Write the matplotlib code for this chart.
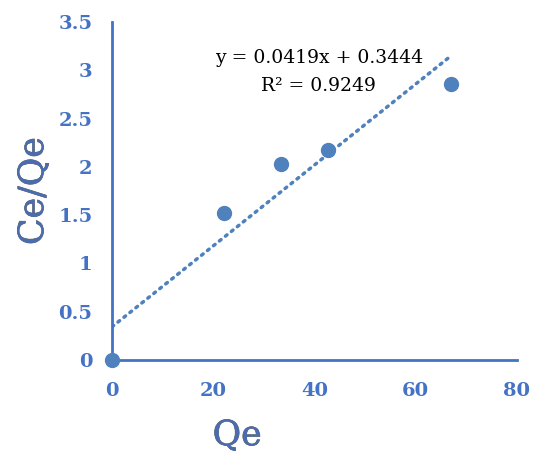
import numpy as np
import matplotlib.pyplot as plt
import matplotlib.patheffects as pe

# data
qe = [0, 22.1, 33.4, 42.7, 67.0]
ce_qe = [0, 1.52, 2.03, 2.18, 2.86]
slope = 0.0419
intercept = 0.3444
r2 = 0.9249

x_ticks = [0, 20, 40, 60, 80]
y_ticks = [0, 0.5, 1, 1.5, 2, 2.5, 3, 3.5]

blue = "#4472C4"
marker_blue = "#4F81BD"
serif = "DejaVu Serif"

fig = plt.figure(figsize=(5.37, 4.61), dpi=100)
ax = fig.add_axes([0.2086, 0.219, 0.754, 0.733])

# trendline
xt = np.array([0, max(qe)])
ax.plot(xt, slope * xt + intercept, linestyle=(0, (0.6, 1.6)), color=marker_blue,
        linewidth=2.5, dash_capstyle="round", zorder=2)
ax.plot(qe, ce_qe, "o", color=marker_blue, markersize=10, zorder=3, clip_on=False)

ax.set_xlim(0, 80)
ax.set_ylim(0, 3.5)
ax.set_xticks(x_ticks)
ax.set_yticks(y_ticks)
ax.set_xticklabels([str(t) for t in x_ticks])
ax.set_yticklabels([f"{t:g}" for t in y_ticks])

for s in ["top", "right"]:
    ax.spines[s].set_visible(False)
for s in ["left", "bottom"]:
    ax.spines[s].set_color(blue)
    ax.spines[s].set_linewidth(2)

ax.tick_params(length=0, colors=blue)
ax.tick_params(axis="x", pad=16)
ax.tick_params(axis="y", pad=14)
for lab in ax.get_xticklabels() + ax.get_yticklabels():
    lab.set_fontfamily(serif)
    lab.set_fontweight("bold")
    lab.set_fontsize(14)

# axis titles: blue fill with a thin grey outline
outline = [pe.withStroke(linewidth=0.5, foreground="#5a5a5a")]
ax.set_xlabel("Qe", fontfamily=serif, fontsize=25, color="#4a6db0", path_effects=outline)
ax.set_ylabel("Ce/Qe", fontfamily=serif, fontsize=25, color="#4a6db0", path_effects=outline)
ax.xaxis.set_label_coords(0.309, -0.172)
ax.yaxis.set_label_coords(-0.153, 0.5)

ax.text(0.511, 0.893, f"y = {slope}x + {intercept}", transform=ax.transAxes,
        ha="center", va="center", fontfamily=serif, fontsize=13.5)
ax.text(0.511, 0.812, f"R² = {r2}", transform=ax.transAxes,
        ha="center", va="center", fontfamily=serif, fontsize=13.5)

fig.savefig("out.png", dpi=100)
